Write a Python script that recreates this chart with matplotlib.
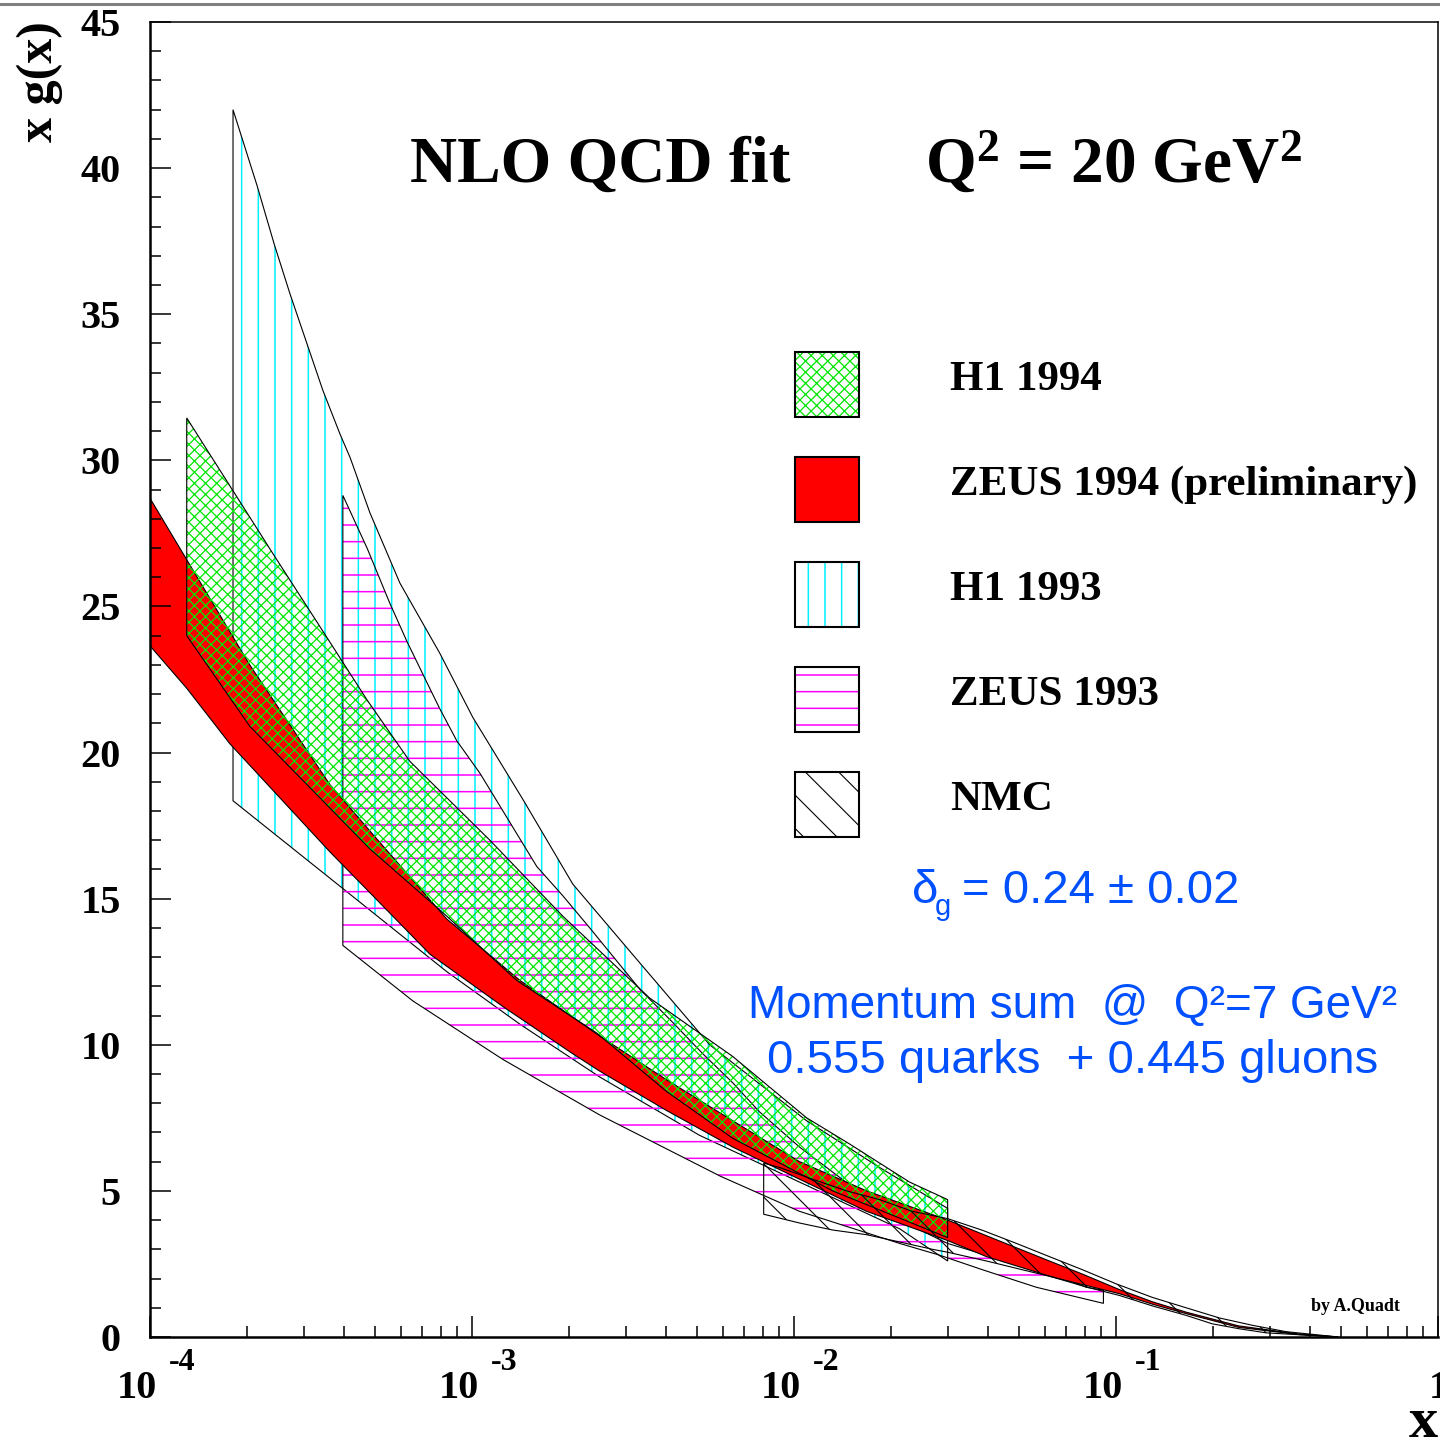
import matplotlib
matplotlib.use("Agg")
import matplotlib.pyplot as plt
from matplotlib.patches import Rectangle
from matplotlib.lines import Line2D
from matplotlib import transforms
from matplotlib.ticker import MultipleLocator, LogLocator, NullFormatter

# ---- band edges: x, upper edge, lower edge ----
# ZEUS 1994 (preliminary), red band
zeus94_x_hi = [1.0e-4, 1.30e-4, 2.04e-4, 3.62e-4, 4.92e-4, 8.35e-4, 1.41e-3, 2.49e-3, 4.02e-3,
               6.45e-3, 1.04e-2, 1.68e-2, 3.0e-2, 4.91e-2, 6.21e-2, 7.87e-2, 0.1025, 0.130,
               0.165, 0.24, 0.37, 0.49]
zeus94_hi = [28.7, 26.6, 23.0, 18.9, 17.2, 14.3, 12.2, 10.3, 8.8, 7.4, 6.0, 5.0, 4.0, 3.05,
             2.6, 2.15, 1.62, 1.2, 0.85, 0.38, 0.1, 0.0]
zeus94_x_lo = [1.0e-4, 1.30e-4, 1.77e-4, 3.62e-4, 4.92e-4, 7.4e-4, 1.25e-3, 2.05e-3, 2.49e-3,
               4.02e-3, 6.45e-3, 1.04e-2, 1.68e-2, 3.0e-2, 3.96e-2, 6.35e-2, 0.1025, 0.130,
               0.165, 0.24, 0.37, 0.49]
zeus94_lo = [23.65, 22.2, 20.3, 16.6, 15.1, 13.1, 11.3, 9.7, 9.1, 7.75, 6.5, 5.4, 4.3, 3.3,
             2.75, 2.05, 1.48, 1.12, 0.8, 0.33, 0.08, 0.0]

# H1 1994, green cross hatch
h194_x_hi = [1.30e-4, 1.80e-4, 2.41e-4, 3.42e-4, 4.72e-4, 6.41e-4, 1.136e-3, 1.914e-3, 3.56e-3,
             6.45e-3, 1.094e-2, 1.49e-2, 2.285e-2, 3.0e-2]
h194_hi = [31.45, 29.0, 26.8, 24.2, 21.8, 19.7, 17.0, 14.4, 11.6, 9.6, 7.5, 6.6, 5.3, 4.7]
h194_x_lo = [1.30e-4, 2.04e-4, 3.62e-4, 4.82e-4, 8.35e-4, 1.377e-3, 2.44e-3, 4.02e-3, 6.45e-3,
             1.318e-2, 3.0e-2]
h194_lo = [24.0, 20.9, 18.1, 16.7, 14.4, 12.2, 10.4, 8.4, 6.8, 5.0, 3.4]

# H1 1993, cyan vertical hatch
h193_x_hi = [1.81e-4, 2.15e-4, 2.43e-4, 2.72e-4, 3.07e-4, 3.44e-4, 3.89e-4, 4.18e-4, 4.82e-4,
             5.97e-4, 7.94e-4, 1.006e-3, 1.438e-3, 2.055e-3, 3.32e-3, 5.47e-3, 1.094e-2,
             1.844e-2, 3.0e-2]
h193_hi = [42.0, 39.4, 37.4, 35.7, 34.0, 32.4, 30.9, 30.1, 28.2, 25.8, 23.4, 21.2, 18.4, 15.5,
           12.8, 10.0, 7.4, 5.8, 4.4]
h193_x_lo = [1.81e-4, 3.62e-4, 8.35e-4, 1.41e-3, 2.49e-3, 5.09e-3, 1.04e-2, 2.13e-2, 3.0e-2]
h193_lo = [18.35, 15.7, 12.5, 10.7, 8.9, 6.9, 5.3, 3.7, 2.6]

# ZEUS 1993, magenta horizontal hatch
zeus93_x_hi = [3.97e-4, 4.72e-4, 5.56e-4, 6.28e-4, 7.24e-4, 7.94e-4, 8.97e-4, 1.057e-3, 1.589e-3,
               1.914e-3, 2.32e-3, 3.32e-3, 4.17e-3, 5.20e-3, 6.45e-3, 7.82e-3, 1.04e-2,
               1.49e-2, 2.13e-2, 3.0e-2, 3.96e-2, 5.78e-2, 8.09e-2, 9.14e-2]
zeus93_hi = [28.8, 27.0, 25.1, 23.8, 22.4, 21.5, 20.4, 19.3, 16.1, 15.1, 14.0, 11.9, 10.8, 9.7,
             8.7, 7.7, 6.5, 5.2, 4.0, 3.2, 2.8, 2.3, 1.7, 1.6]
zeus93_x_lo = [3.97e-4, 6.55e-4, 1.246e-3, 2.49e-3, 5.91e-3, 1.04e-2, 2.13e-2, 2.83e-2, 3.85e-2,
               5.66e-2, 9.14e-2]
zeus93_lo = [13.4, 11.5, 9.5, 7.6, 5.5, 4.3, 3.2, 2.8, 2.3, 1.7, 1.15]

# NMC, black diagonal hatch
nmc_x_hi = [8.05e-3, 9.02e-3, 1.142e-2, 1.456e-2, 1.844e-2, 2.33e-2, 3.0e-2, 3.85e-2, 4.91e-2,
            6.21e-2, 7.87e-2, 0.100, 0.130, 0.165, 0.2095, 0.265, 0.338, 0.49]
nmc_hi = [5.95, 5.8, 5.4, 5.0, 4.7, 4.3, 4.05, 3.65, 3.2, 2.75, 2.3, 1.82, 1.35, 1.0, 0.65,
          0.4, 0.18, 0.0]
nmc_x_lo = [8.05e-3, 1.04e-2, 1.318e-2, 1.68e-2, 2.13e-2, 2.69e-2, 3.0e-2, 3.96e-2, 5.12e-2,
            6.35e-2, 8.09e-2, 0.1025, 0.130, 0.165, 0.199, 0.2415, 0.293, 0.49]
nmc_lo = [4.2, 3.9, 3.66, 3.5, 3.25, 3.0, 2.9, 2.6, 2.3, 2.05, 1.71, 1.42, 1.06, 0.74, 0.45,
          0.28, 0.14, 0.0]

legend_labels = ["H1 1994", "ZEUS 1994 (preliminary)", "H1 1993", "ZEUS 1993", "NMC"]
decades = [-4, -3, -2, -1]
y_ticks = [0, 5, 10, 15, 20, 25, 30, 35, 40, 45]

SERIF = "Liberation Serif"
SANS = "Liberation Sans"
BLUE = "#0050ff"

plt.rcParams["mathtext.fontset"] = "custom"
plt.rcParams["mathtext.rm"] = "Liberation Serif:bold"
plt.rcParams["mathtext.bf"] = "Liberation Serif:bold"
plt.rcParams["mathtext.it"] = "Liberation Serif:bold:italic"


def band(ax, x_hi, hi, x_lo, lo, face=None, hatch=None, hcolor="black", hlw=1.0):
    xs = list(x_hi) + list(reversed(x_lo))
    ys = list(hi) + list(reversed(lo))
    if face is not None:
        ax.fill(xs, ys, facecolor=face, edgecolor="black", lw=0.8)
    if hatch is not None:
        plt.rcParams["hatch.linewidth"] = hlw
        ax.fill(xs, ys, facecolor="none", edgecolor=hcolor, hatch=hatch, lw=0)
        ax.fill(xs, ys, fill=False, edgecolor="black", lw=0.8)


def legend_box(ax, y0, face="none", hatch=None, hcolor="black", hlw=1.0):
    plt.rcParams["hatch.linewidth"] = hlw
    if hatch is not None:
        ax.add_patch(Rectangle((0.5008, y0), 0.0497, 0.0494, transform=ax.transAxes,
                               facecolor="white", edgecolor=hcolor, hatch=hatch, lw=0))
    ax.add_patch(Rectangle((0.5008, y0), 0.0497, 0.0494, transform=ax.transAxes,
                           facecolor=face, edgecolor="black", lw=1.5))


fig = plt.figure(figsize=(14.4, 14.41), dpi=100)
ax = fig.add_axes([0.1042, 0.0722, 0.8944, 0.9125])
ax.set_xscale("log")
ax.set_xlim(1e-4, 1)
ax.set_ylim(0, 45)

# bands, in drawing order
band(ax, h193_x_hi, h193_hi, h193_x_lo, h193_lo, hatch="|", hcolor="#00f0ff", hlw=1.1)
band(ax, zeus93_x_hi, zeus93_hi, zeus93_x_lo, zeus93_lo, hatch="-", hcolor="#ff00ff", hlw=1.1)
band(ax, zeus94_x_hi, zeus94_hi, zeus94_x_lo, zeus94_lo, face="#ff0000")
band(ax, h194_x_hi, h194_hi, h194_x_lo, h194_lo, hatch="xxx", hcolor="#00e600", hlw=0.9)
band(ax, nmc_x_hi, nmc_hi, nmc_x_lo, nmc_lo, hatch="\\", hcolor="black", hlw=0.8)

# axes styling
for side in ["left", "bottom"]:
    ax.spines[side].set_linewidth(1.8)
for side in ["top", "right"]:
    ax.spines[side].set_linewidth(1.1)
ax.yaxis.set_major_locator(MultipleLocator(5))
ax.yaxis.set_minor_locator(MultipleLocator(1))
ax.set_yticks(y_ticks)
ax.set_yticklabels([str(v) for v in y_ticks], fontsize=29, fontfamily=SERIF, fontweight="bold")
ax.xaxis.set_major_locator(LogLocator(base=10, numticks=10))
ax.xaxis.set_minor_locator(LogLocator(base=10, subs=range(2, 10), numticks=20))
ax.xaxis.set_major_formatter(NullFormatter())
ax.xaxis.set_minor_formatter(NullFormatter())
ax.tick_params(axis="both", which="major", direction="in", length=15, width=1.1)
ax.tick_params(axis="both", which="minor", direction="in", length=8, width=1.1)
ax.tick_params(axis="y", which="major", pad=21)
ax.tick_params(top=False, right=False, which="both")

# x tick labels drawn by hand: "10" with raised exponent
base = transforms.blended_transform_factory(ax.transData, ax.transAxes)
for d in decades:
    t1 = transforms.offset_copy(base, fig=fig, x=7, y=0, units="dots")
    ax.text(10.0 ** d, -0.0464, "10", transform=t1, ha="right", va="baseline",
            fontsize=29, fontfamily=SERIF, fontweight="bold")
    t2 = transforms.offset_copy(base, fig=fig, x=19, y=28, units="dots")
    ax.text(10.0 ** d, -0.0464, "-%d" % abs(d), transform=t2, ha="left", va="baseline",
            fontsize=23, fontfamily=SERIF, fontweight="bold")
t3 = transforms.offset_copy(base, fig=fig, x=-9, y=0, units="dots")
ax.text(1.0, -0.0464, "1", transform=t3, ha="left", va="baseline", fontsize=29,
        fontfamily=SERIF, fontweight="bold", clip_on=False)

ax.text(1.0, -0.076, "x", transform=ax.transAxes, ha="right", va="baseline", fontsize=42,
        fontfamily=SERIF, fontweight="bold")
fig.text(0.028, 0.985, "x g(x)", rotation=90, ha="center", va="top", fontsize=36,
         fontfamily=SERIF, fontweight="bold")

# title texts
ax.text(0.2019, 0.8783, "NLO QCD fit", transform=ax.transAxes, fontsize=47,
        fontfamily=SERIF, fontweight="bold", va="baseline")
ax.text(0.6017, 0.8783, r"Q$^2$ = 20 GeV$^2$", transform=ax.transAxes, fontsize=47,
        fontfamily=SERIF, fontweight="bold", va="baseline")

# legend
box_y = [0.6996, 0.6198, 0.5399, 0.4601, 0.3802]
label_y = [0.7202, 0.6403, 0.5605, 0.4806, 0.4008]
legend_box(ax, box_y[0], hatch="xxx", hcolor="#00e600", hlw=0.9)
legend_box(ax, box_y[1], face="#ff0000")
legend_box(ax, box_y[2], hatch="|", hcolor="#00f0ff", hlw=1.1)
legend_box(ax, box_y[3], hatch="-", hcolor="#ff00ff", hlw=1.1)
legend_box(ax, box_y[4], hatch="\\", hcolor="black", hlw=0.8)
for lab, yy in zip(legend_labels, label_y):
    ax.text(0.6211, yy, lab, transform=ax.transAxes, fontsize=31, fontfamily=SERIF,
            fontweight="bold", va="baseline")

# blue annotations
ax.text(0.5916, 0.3300, "\u03b4", transform=ax.transAxes, fontsize=34, fontfamily=SANS,
        color=BLUE, va="baseline")
ax.text(0.6095, 0.3209, "g", transform=ax.transAxes, fontsize=21, fontfamily=SANS,
        color=BLUE, va="baseline")
ax.text(0.6304, 0.3300, "= 0.24 \u00b1 0.02", transform=ax.transAxes, fontsize=34,
        fontfamily=SANS, color=BLUE, va="baseline")
ax.text(0.7166, 0.2426, "Momentum sum  @  Q\u00b2=7 GeV\u00b2", transform=ax.transAxes,
        fontsize=33, fontfamily=SANS, color=BLUE, va="baseline", ha="center")
ax.text(0.7166, 0.2008, "0.555 quarks  + 0.445 gluons", transform=ax.transAxes,
        fontsize=34, fontfamily=SANS, color=BLUE, va="baseline", ha="center")

ax.text(0.9014, 0.0198, "by A.Quadt", transform=ax.transAxes, fontsize=13,
        fontfamily=SERIF, fontweight="bold", va="baseline")

fig.add_artist(Line2D([0, 1], [0.9972, 0.9972], color="#808080", lw=2.2,
                      transform=fig.transFigure))

fig.savefig("out.png", dpi=100)
